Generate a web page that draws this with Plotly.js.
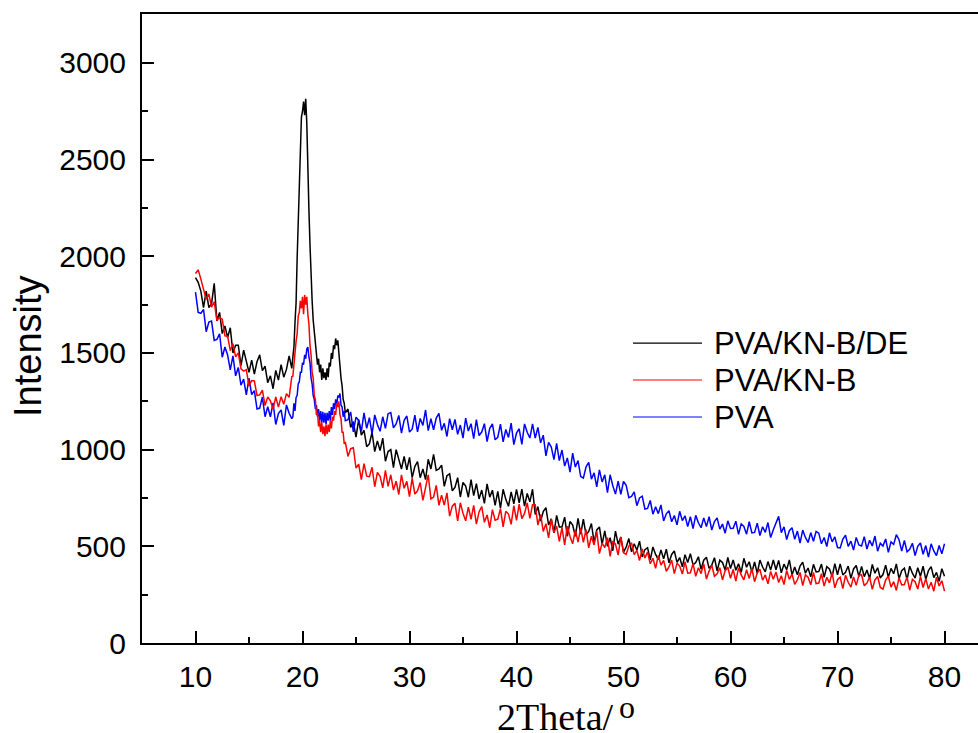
<!DOCTYPE html>
<html>
<head>
<meta charset="utf-8">
<script src="https://cdn.plot.ly/plotly-3.0.1.min.js"></script>
<style>
html,body{margin:0;padding:0;overflow:hidden;background:#fff;}
#chart{width:1010px;height:733px;}
</style>
</head>
<body>
<div id="chart"></div>
<script>
// 2Theta (degrees)
const twoTheta = [
10,10.25,10.5,10.75,11,11.25,11.5,11.75,12,12.25,12.5,12.75,13,13.25,13.5,13.75,14,14.25,14.5,14.75,15,15.25,15.5,15.75,16,16.25,16.5,16.75,17,17.25,17.5,17.75,18,18.25,18.5,18.75,19,
19.1,19.2,19.3,19.4,19.5,19.6,19.7,19.8,19.9,20,20.1,20.2,20.3,20.4,20.5,20.6,20.7,20.8,20.9,21,21.1,21.2,21.3,21.4,21.5,21.6,21.7,21.8,21.9,22,22.1,22.2,22.3,22.4,22.5,22.6,22.7,22.8,22.9,23,23.1,23.2,23.3,23.4,23.5,23.6,23.7,23.8,23.9,24,
24.25,24.5,24.75,25,25.25,25.5,25.75,26,
26.25,26.5,26.75,27,27.25,27.5,27.75,28,
28.25,28.5,28.75,29,29.25,29.5,29.75,30,
30.25,30.5,30.75,31,31.25,31.5,31.75,32,
32.25,32.5,32.75,33,33.25,33.5,33.75,34,
34.25,34.5,34.75,35,35.25,35.5,35.75,36,
36.25,36.5,36.75,37,37.25,37.5,37.75,38,
38.25,38.5,38.75,39,39.25,39.5,39.75,40,
40.25,40.5,40.75,41,41.25,41.5,41.75,42,
42.25,42.5,42.75,43,43.25,43.5,43.75,44,
44.25,44.5,44.75,45,45.25,45.5,45.75,46,
46.25,46.5,46.75,47,47.25,47.5,47.75,48,
48.25,48.5,48.75,49,49.25,49.5,49.75,50,
50.25,50.5,50.75,51,51.25,51.5,51.75,52,
52.25,52.5,52.75,53,53.25,53.5,53.75,54,
54.25,54.5,54.75,55,55.25,55.5,55.75,56,
56.25,56.5,56.75,57,57.25,57.5,57.75,58,
58.25,58.5,58.75,59,59.25,59.5,59.75,60,
60.25,60.5,60.75,61,61.25,61.5,61.75,62,
62.25,62.5,62.75,63,63.25,63.5,63.75,64,
64.25,64.5,64.75,65,65.25,65.5,65.75,66,
66.25,66.5,66.75,67,67.25,67.5,67.75,68,
68.25,68.5,68.75,69,69.25,69.5,69.75,70,
70.25,70.5,70.75,71,71.25,71.5,71.75,72,
72.25,72.5,72.75,73,73.25,73.5,73.75,74,
74.25,74.5,74.75,75,75.25,75.5,75.75,76,
76.25,76.5,76.75,77,77.25,77.5,77.75,78,
78.25,78.5,78.75,79,79.25,79.5,79.75,80
];

// PVA/KN-B/DE
const pvaKnbDe = [
1890,1865,1820,1735,1820,1735,1755,1860,1665,1710,1600,1640,1580,1630,1500,1540,1540,1435,1515,1450,1400,1463,1391,1455,1490,1408,1432,1346,1382,1315,1410,1360,1440,1375,1415,1485,1420,
1480,1530,1660,1760,1990,2210,2430,2580,2720,2750,2800,2730,2815,2690,2520,2240,2060,1870,1770,1670,1610,1530,1500,1440,1470,1400,1440,1360,1420,1370,1400,1360,1420,1375,1450,1430,1500,1470,1540,1520,1575,1540,1565,1490,1450,1370,1330,1260,1240,1190,
1210,1115,1145,1065,1155,1075,1100,1015,
1030,1090,990,1045,995,1060,940,990,
1000,907,1000,943,900,965,895,960,
855,913,938,855,900,845,950,900,
975,893,900,920,810,865,875,787,
805,855,755,830,812,754,845,762,
824,745,791,722,823,754,790,712,
784,697,795,743,707,781,720,795,
725,796,708,773,730,795,665,705,
630,680,700,610,642,570,660,600,
600,651,552,628,610,552,645,563,
641,559,577,618,522,585,600,510,
580,500,545,477,579,511,548,470,
496,540,472,513,480,527,445,483,
493,430,497,458,431,481,435,485,
415,458,476,417,442,394,457,416,
462,404,416,446,381,428,444,386,
403,441,373,428,416,377,442,385,
430,376,410,365,438,392,420,366,
419,360,429,393,368,421,377,429,
379,427,363,408,379,430,352,393,
353,398,418,361,388,342,407,368,
370,408,340,395,383,344,410,353,
409,352,366,398,334,383,401,343,
396,343,378,333,406,361,389,336,
354,403,340,386,358,409,332,374,
387,328,397,361,336,389,345,397,
329,374,395,338,365,319,384,345
];

// PVA/KN-B
const pvaKnb = [
1911,1930,1882,1826,1777,1805,1737,1765,1668,1684,1675,1589,1587,1512,1548,1480,1500,1418,1406,1414,1329,1357,1355,1280,1283,1308,1228,1273,1253,1209,1273,1220,1274,1235,1290,1270,1378,
1380,1450,1480,1560,1600,1690,1710,1770,1730,1790,1700,1800,1750,1790,1700,1650,1540,1490,1400,1370,1280,1260,1180,1190,1120,1150,1090,1140,1080,1120,1070,1130,1080,1130,1090,1150,1110,1170,1150,1200,1180,1240,1220,1250,1180,1160,1090,1090,1030,1040,
965,1005,1010,905,925,845,928,863,
860,909,808,882,862,802,893,810,
870,791,837,768,869,800,836,757,
853,770,787,830,738,806,870,745,
755,815,712,765,713,776,656,708,
722,631,725,671,632,703,640,712,
615,678,706,624,662,596,690,635,
640,695,600,681,667,614,711,634,
718,643,670,725,645,715,715,610,
665,577,617,544,642,570,605,525,
596,507,604,551,513,585,522,594,
520,586,492,552,507,577,462,517,
493,545,448,527,511,455,549,467,
458,501,518,457,479,427,486,440,
470,410,438,386,453,403,427,371,
393,429,359,412,398,357,420,361,
363,410,345,389,359,409,331,372,
402,345,358,389,326,374,392,335,
380,320,389,352,327,379,334,385,
317,362,382,325,352,306,370,330,
367,313,348,302,375,329,357,303,
327,365,297,352,340,301,365,307,
310,358,294,340,311,363,285,327,
340,281,350,314,289,342,298,350,
353,296,310,341,278,326,344,287,
279,325,346,289,317,272,338,300,
302,341,273,329,317,279,344,287,
333,279,314,268,340,295,322,268
];

// PVA
const pva = [
1815,1710,1705,1725,1610,1660,1665,1565,1570,1599,1478,1531,1490,1412,1485,1382,1425,1333,1365,1283,1370,1285,1305,1210,1215,1272,1170,1222,1170,1242,1130,1187,1205,1125,1231,1188,1160,
1170,1240,1200,1270,1280,1340,1350,1400,1400,1450,1440,1490,1470,1520,1530,1480,1450,1370,1340,1280,1260,1210,1230,1170,1210,1150,1200,1140,1195,1140,1190,1130,1190,1150,1200,1150,1220,1180,1240,1210,1260,1230,1280,1270,1290,1230,1220,1170,1200,1150,
1155,1195,1092,1168,1151,1095,1190,1110,
1165,1080,1180,1130,1095,1170,1110,1186,
1192,1113,1133,1177,1085,1152,1174,1091,
1106,1178,1092,1161,1125,1205,1098,1160,
1103,1163,1187,1100,1136,1068,1160,1103,
1156,1079,1127,1060,1163,1096,1134,1057,
1155,1073,1091,1134,1042,1110,1133,1051,
1064,1132,1040,1104,1063,1137,1026,1086,
1108,1027,1133,1090,1060,1133,1060,1115,
1035,1075,968,1038,1013,948,1033,943,
998,915,957,884,982,910,943,861,
853,911,934,847,880,807,895,833,
870,777,870,813,770,837,769,836,
816,752,758,782,710,750,759,693,
696,737,666,704,669,714,631,668,
684,627,659,611,681,633,658,602,
653,592,660,622,596,647,602,653,
584,628,647,589,615,568,632,592,
593,630,562,616,603,563,627,569,
572,620,556,601,572,623,545,586,
616,655,571,601,535,581,596,536,
579,517,584,546,520,571,526,577,
568,513,546,499,570,523,549,494,
492,537,557,500,527,481,546,507,
502,550,486,531,502,553,475,516,
501,538,469,523,510,560,534,476,
530,472,485,516,452,500,517,459,
504,444,513,476,452,504,461,513
];

const seriesNames = ['PVA/KN-B/DE','PVA/KN-B','PVA'];
const seriesColors = ['#000000','#ff0000','#0000ff'];

const sans = 'Liberation Sans, Arial, sans-serif';
const serif = 'Liberation Serif, Times New Roman, serif';

// draw order: black, blue, red (red on top)
const traces = [
  {x: twoTheta, y: pvaKnbDe, name: seriesNames[0], line: {color: seriesColors[0], width: 1.5}},
  {x: twoTheta, y: pva, name: seriesNames[2], line: {color: seriesColors[2], width: 1.5}},
  {x: twoTheta, y: pvaKnb, name: seriesNames[1], line: {color: seriesColors[1], width: 1.5}}
].map(t => Object.assign({type: 'scatter', mode: 'lines', showlegend: false}, t));

// legend drawn as line samples + labels (paper coordinates)
const legendRows = [0.4769, 0.4181, 0.3593];
const shapes = seriesNames.map((n, i) => ({
  type: 'line', xref: 'paper', yref: 'paper',
  x0: 0.5736, x1: 0.6542, y0: legendRows[i], y1: legendRows[i],
  line: {color: seriesColors[i], width: 1.2}
}));
const annotations = seriesNames.map((n, i) => ({
  xref: 'paper', yref: 'paper', x: 0.6659, y: legendRows[i],
  xanchor: 'left', yanchor: 'middle', showarrow: false, text: n,
  font: {family: sans, size: 31, color: '#000'}
}));
// axis titles
annotations.push({
  xref: 'paper', yref: 'paper', x: -0.1332, y: 0.4722, textangle: -90,
  xanchor: 'center', yanchor: 'middle', showarrow: false, text: 'Intensity',
  font: {family: sans, size: 38, color: '#000'}
});
annotations.push({
  xref: 'paper', yref: 'paper', x: 0.4825, y: -0.1169,
  xanchor: 'center', yanchor: 'middle', showarrow: false, text: '2Theta/',
  font: {family: serif, size: 38, color: '#000'}
});
annotations.push({
  xref: 'paper', yref: 'paper', x: 0.5666, y: -0.1011,
  xanchor: 'center', yanchor: 'middle', showarrow: false, text: 'o',
  font: {family: serif, size: 32, color: '#000'}
});

const axisCommon = {
  showline: true, linewidth: 2, linecolor: '#000', mirror: true,
  showgrid: false, zeroline: false,
  ticks: 'inside', ticklen: 12, tickwidth: 2, tickcolor: '#000',
  tickfont: {family: sans, size: 30, color: '#000'},
  automargin: false
};

const layout = {
  width: 1010, height: 733,
  margin: {l: 142, r: 12, t: 14, b: 90},
  paper_bgcolor: '#fff', plot_bgcolor: '#fff',
  showlegend: false,
  shapes: shapes,
  annotations: annotations,
  xaxis: Object.assign({}, axisCommon, {
    range: [5, 85], tickmode: 'linear', tick0: 0, dtick: 10, ticklabelstandoff: 6,
    minor: {tick0: 0, dtick: 5, ticks: 'inside', ticklen: 6, tickwidth: 2, tickcolor: '#000'}
  }),
  yaxis: Object.assign({}, axisCommon, {
    range: [0, 3253], tickmode: 'linear', tick0: 0, dtick: 500, ticklabelstandoff: 8,
    minor: {tick0: 0, dtick: 250, ticks: 'inside', ticklen: 6, tickwidth: 2, tickcolor: '#000'}
  })
};

Plotly.newPlot('chart', traces, layout, {displayModeBar: false, staticPlot: true});
</script>
</body>
</html>
